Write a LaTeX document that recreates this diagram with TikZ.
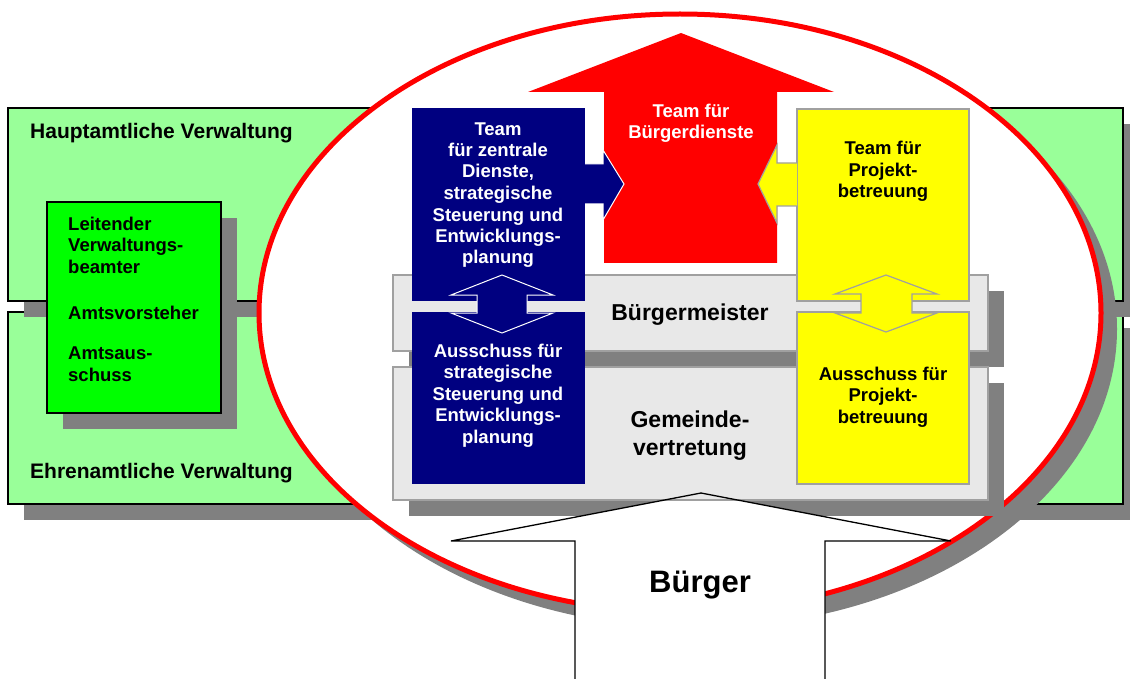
\documentclass[tikz,border=0pt]{standalone}
\usepackage{fontspec}
\setmainfont{Liberation Sans}
\usepackage{tikz}
\usetikzlibrary{calc,shapes,shadows,fit,positioning}

\definecolor{hellgruen}{HTML}{99FF99}
\definecolor{gruen}{HTML}{00FF00}
\definecolor{marine}{HTML}{000080}
\definecolor{rot}{HTML}{FF0000}
\definecolor{gelb}{HTML}{FFFF00}
\definecolor{hellgrau}{HTML}{E8E8E8}
\definecolor{rahmengrau}{HTML}{A0A0A0}
\definecolor{schattengrau}{HTML}{808080}

\tikzset{
  schatten/.style={drop shadow={shadow xshift=16pt,shadow yshift=-16pt,fill=schattengrau,opacity=1}},
  feld/.style={rectangle,inner sep=0pt,draw=black,line width=1.6pt,fill=hellgruen,schatten},
  amt/.style={feld,fill=gruen},
  tafel/.style={rectangle,inner sep=0pt,draw=rahmengrau,line width=1.6pt,fill=hellgrau,schatten},
  teamblau/.style={rectangle,inner sep=0pt,fill=marine},
  teamgelb/.style={rectangle,inner sep=0pt,draw=rahmengrau,line width=1.6pt,fill=gelb},
  klein/.style={inner sep=0pt,font=\bfseries\fontsize{18.5}{21.5}\selectfont},
  gross/.style={inner sep=0pt,font=\bfseries\fontsize{21}{25}\selectfont},
  mittel/.style={inner sep=0pt,font=\bfseries\fontsize{23}{28}\selectfont},
  pfeilblau/.style={draw=white,line width=1pt},
  pfeilgelb/.style={draw=rahmengrau,line width=1.2pt},
}

\begin{document}
\begin{tikzpicture}[x=1pt,y=-1pt]
  \useasboundingbox (0,0) rectangle (1130,679);
  \clip (0,0) rectangle (1130,679);

  % Verwaltung im Hintergrund
  \node[feld,fit={(8,312) (1123,504)}] (ehren) {};
  \node[feld,fit={(8,108) (1123,301)}] (haupt) {};
  \node[amt,fit={(47,202) (221,413)}] (leitung) {};
  \node[gross,anchor=base west] (haupttext) at (30,139) {Hauptamtliche Verwaltung};
  \node[gross,anchor=base west] (ehrentext) at (30,478) {Ehrenamtliche Verwaltung};
  % mehrzeilige Texte: base = letzte Zeile
  \node[klein,anchor=base west,align=left] (lvbtext) at (68,273) {Leitender\\Verwaltungs-\\beamter};
  \node[klein,anchor=base west] (vorsteher) at (68,319) {Amtsvorsteher};
  \node[klein,anchor=base west,align=left] (amtsaus) at (68,381) {Amtsaus-\\schuss};

  % Gemeinde
  \node[ellipse,draw=rot,line width=5pt,fill=white,schatten,inner sep=0pt,
        minimum width=842pt,minimum height=598pt] (gemeinde) at (680,313) {};

  \fill[rot] (604,263) -- (604,92) -- (528,92) -- (681,33) -- (834,92)
    -- (777,92) -- (777,263) -- cycle;

  \node[tafel,fit={(393,275) (988,351)}] (bm) {};
  \node[tafel,fit={(393,367) (988,500)}] (gv) {};

  \node[teamblau,fit={(412,108) (585,301)}] (zentral) {};
  \node[teamblau,fit={(412,312) (585,484)}] (strategie) {};
  \node[teamgelb,fit={(797,109) (969,301)}] (projekt) {};
  \node[teamgelb,fit={(797,312) (969,484)}] (projektaus) {};

  % Pfeile zwischen den Teams
  \fill[marine] (585,164) -- (603,164) -- (603,150) -- (624,184) -- (603,220) -- (603,204) -- (585,204) -- cycle;
  \draw[pfeilblau] (585,164) -- (603,164) -- (603,150) -- (624,184) -- (603,220) -- (603,204) -- (585,204);
  \fill[gelb] (797,163) -- (777,163) -- (777,145) -- (758,184) -- (777,223) -- (777,206) -- (797,206) -- cycle;
  \draw[pfeilgelb] (797,163) -- (777,163) -- (777,145) -- (758,184) -- (777,223) -- (777,206) -- (797,206);

  \filldraw[pfeilblau,fill=marine] (502,275) -- (553,295) -- (527,295) -- (527,313) -- (553,313) -- (502,333)
    -- (451,313) -- (477,313) -- (477,295) -- (451,295) -- cycle;
  \filldraw[pfeilgelb,fill=gelb] (886,275) -- (937,294) -- (912,294) -- (912,313) -- (937,313) -- (886,332)
    -- (835,313) -- (861,313) -- (861,294) -- (835,294) -- cycle;

  \node[klein,text=white,anchor=base,align=center] (bdtext) at (691,139) {Team für\\Bürgerdienste};
  \node[klein,text=white,anchor=base,align=center] (zentraltext) at (498,264)
    {Team\\für zentrale\\Dienste,\\strategische\\Steuerung und\\Entwicklungs-\\planung};
  \node[klein,text=white,anchor=base,align=center] (strategietext) at (498,443)
    {Ausschuss für\\strategische\\Steuerung und\\Entwicklungs-\\planung};
  \node[klein,anchor=base,align=center] (projekttext) at (883,198) {Team für\\Projekt-\\betreuung};
  \node[klein,anchor=base,align=center] (projektaustext) at (883,423) {Ausschuss für\\Projekt-\\betreuung};
  \node[mittel,anchor=base] (bmtext) at (690,320) {Bürgermeister};
  \node[mittel,anchor=base,align=center] (gvtext) at (690,455) {Gemeinde-\\vertretung};

  % Buerger
  \begin{scope}
    \clip (0,501) rectangle (1130,690);
    \fill[white] (575,690) -- (575,541) -- (451,541) -- (701,493) -- (951,541) -- (825,541) -- (825,690) -- cycle;
  \end{scope}
  \draw[line width=1.3pt] (575,690) -- (575,541) -- (451,541) -- (701,493) -- (951,541) -- (825,541) -- (825,690);
  \node[inner sep=0pt,font=\bfseries\fontsize{31}{37}\selectfont,anchor=base] (buerger) at (700,592) {Bürger};
\end{tikzpicture}
\end{document}
